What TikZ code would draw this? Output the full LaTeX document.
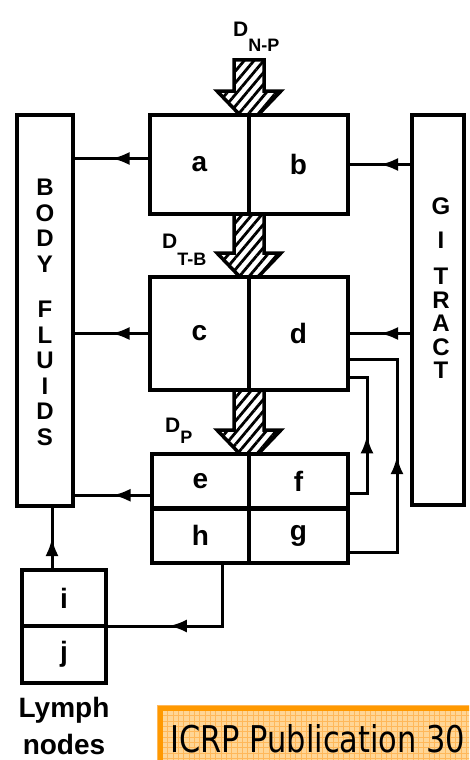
\documentclass[tikz,border=0pt]{standalone}
\usepackage{fontspec}
\setmainfont{Liberation Sans}
\newfontfamily\icrpfont{DejaVu Sans}
\usepackage{graphicx}
\usepackage{tikz}
\usetikzlibrary{backgrounds}
\usetikzlibrary{calc, positioning, arrows.meta, decorations.markings, patterns.meta}

\definecolor{icrporange}{RGB}{255,153,0}
\definecolor{icrpfill}{RGB}{255,214,150}
\definecolor{icrpgrid}{RGB}{255,184,90}

\tikzset{
  compart/.style={draw, line width=4.5pt, outer sep=0pt, inner sep=0pt, font=\bfseries\fontsize{28}{28}\selectfont},
  vertlabel/.style={align=center, inner sep=0pt, font=\bfseries\fontsize{24}{25.5}\selectfont},
  flow/.style={line width=3pt, postaction={decorate}, decoration={markings, mark=at position #1 with {\arrow{Latex[length=18pt,width=13pt]}}}},
  flow/.default=0.5,
  hatched/.style={draw, line width=3.5pt, preaction={fill=white}, pattern={Lines[angle=50,distance=7.5pt,line width=2.8pt]}},
  doselabel/.style={anchor=base west, inner sep=0pt, font=\bfseries\fontsize{21}{21}\selectfont},
}

% deposition arrow: shaft from #1, tip at #2
\newcommand{\hatcharrow}[2]{%
  \draw[hatched] ($(#1)+(-15,0)$) -- ($(#2)+(-15,-24)$) -- ($(#2)+(-32,-24)$) -- ($(#2)+(-9,0)$)
    -- ($(#2)+(9,0)$) -- ($(#2)+(32,-24)$) -- ($(#2)+(15,-24)$) -- ($(#1)+(15,0)$) -- cycle;}
\newcommand{\dose}[2]{D\raisebox{-#2pt}{\fontsize{18}{18}\selectfont #1}}

\begin{document}
\begin{tikzpicture}[x=1pt, y=-1pt]
  \useasboundingbox (0,0) rectangle (469,760);
  \clip (0,0) rectangle (469,760);
  % Body fluids and GI tract
  \node[compart, minimum width=56pt, minimum height=391pt] (bf) at (45,310.5) {};
  \node[compart, minimum width=52pt, minimum height=390pt] (gi) at (438,310) {};
  \node[vertlabel] (bflabel) at (45,312.5) {B\\O\\D\\Y\\[20pt]F\\L\\U\\I\\D\\S};
  \node[vertlabel, font=\bfseries\fontsize{24}{23.5}\selectfont] (gilabel) at (441,288.5) {G\\[10pt]I\\[13pt]T\\R\\A\\C\\T};
  % N-P region
  \node[compart, minimum width=99pt, minimum height=99pt] (a) at (199.5,164.5) {a};
  \node[compart, minimum width=99pt, minimum height=99pt, right=0pt of a] (b) {b};
  % T-B region
  \node[compart, minimum width=99pt, minimum height=113pt] (c) at (199.5,333.5) {c};
  \node[compart, minimum width=99pt, minimum height=113pt, right=0pt of c] (d) {d};
  % P region
  \node[compart, minimum width=97pt, minimum height=54.5pt] (e) at (200.5,481.25) {e};
  \node[compart, minimum width=99pt, minimum height=54.5pt, right=0pt of e] (f) {f};
  \node[compart, minimum width=97pt, minimum height=54.5pt, below=0pt of e] (h) {h};
  \node[compart, minimum width=99pt, minimum height=54.5pt, right=0pt of h] (g) {g};
  % Lymph nodes
  \node[compart, minimum width=84pt, minimum height=56pt] (i) at (64,598) {i};
  \node[compart, minimum width=84pt, minimum height=57pt, below=0pt of i] (j) {j};
  \node[inner sep=0pt, align=center, anchor=north, font=\bfseries\fontsize{28}{37}\selectfont] (lymph) at (64,697) {Lymph\\nodes};
  % Deposition
  \node[doselabel] (dnp) at (233,37) {\dose{N-P}{15}};
  \node[doselabel] (dtb) at (162,248) {\dose{T-B}{17}};
  \node[doselabel] (dp) at (165,432) {\dose{P}{11}};
  \coordinate (npin) at (249,60);
  \begin{scope}[on background layer]
    \hatcharrow{npin}{a.north east}
    \hatcharrow{a.south east}{c.north east}
    \hatcharrow{c.south east}{e.north east}
  \end{scope}
  % Ports
  \coordinate (aport) at ([yshift=6pt]a.west);
  \coordinate (eport) at ([yshift=-14pt]e.west);
  \coordinate (fport) at ([yshift=-12pt]f.east);
  \coordinate (gport) at ([yshift=-17pt]g.east);
  \coordinate (dmid) at ([yshift=-26pt]d.east);
  \coordinate (dlow) at ([yshift=-44pt]d.east);
  \coordinate (hport) at ([xshift=22pt]h.south);
  \coordinate (iport) at ([xshift=-12pt]i.north);
  % Transfers
  \draw[flow] (aport) -- (aport -| bf.east);
  \draw[flow] (c.west) -- (c.west -| bf.east);
  \draw[flow] (eport) -- (eport -| bf.east);
  \draw[flow] (b.east -| gi.west) -- (b.east);
  \draw[flow] (d.east -| gi.west) -- (d.east);
  \draw[flow] (fport) -- ++(19,0) |- (dlow);
  \draw[flow] (gport) -- ++(49,0) |- (dmid);
  \draw[flow=0.65] (hport) |- (i.south east);
  \draw[flow] (iport) -- (iport |- bf.south);
  % Publication tag
  \fill[icrpfill] (157,705) rectangle (480,770);
  \foreach \gx in {0,...,60} \draw[icrpgrid, line width=0.6pt] ({157+5.33*\gx},705) -- ++(0,60);
  \foreach \gy in {0,...,12} \draw[icrpgrid, line width=0.6pt] (157,{705+5.33*\gy}) -- ++(320,0);
  \draw[icrporange, line width=5pt] (160,708) rectangle (490,780);
  \node[anchor=base west, inner sep=0pt] (icrp) at (170,752) {\resizebox{295pt}{28pt}{\icrpfont ICRP Publication 30}};
\end{tikzpicture}
\end{document}
